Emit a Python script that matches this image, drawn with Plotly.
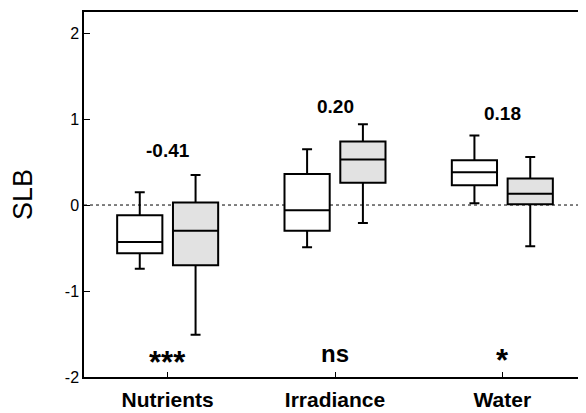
import plotly.graph_objects as go

categories = ["Nutrients", "Irradiance", "Water"]

# white boxes (first series)
w_low = [-0.74, -0.49, 0.02]
w_q1 = [-0.56, -0.30, 0.23]
w_med = [-0.43, -0.06, 0.38]
w_q3 = [-0.12, 0.36, 0.52]
w_high = [0.15, 0.65, 0.81]

# gray boxes (second series)
g_low = [-1.51, -0.21, -0.48]
g_q1 = [-0.70, 0.26, 0.01]
g_med = [-0.30, 0.53, 0.13]
g_q3 = [0.03, 0.74, 0.31]
g_high = [0.35, 0.94, 0.56]

effect_labels = ["-0.41", "0.20", "0.18"]
effect_y = [0.64, 1.15, 1.06]
signif_labels = ["***", "ns", "*"]
signif_y = [-1.83, -1.73, -1.81]
signif_size = [31, 24, 31]

y_ticks = [-2, -1, 0, 1, 2]
y_ticktext = ["-2", "-1", "0", "1", "2"]

FONT = "Liberation Sans, Arial, sans-serif"

fig = go.Figure()
fig.add_trace(go.Box(
    x=categories, q1=w_q1, median=w_med, q3=w_q3,
    lowerfence=w_low, upperfence=w_high,
    fillcolor="white", line=dict(color="black", width=2),
    whiskerwidth=0.22, boxpoints=False, showlegend=False, name="a",
))
fig.add_trace(go.Box(
    x=categories, q1=g_q1, median=g_med, q3=g_q3,
    lowerfence=g_low, upperfence=g_high,
    fillcolor="#e2e2e2", line=dict(color="black", width=2),
    whiskerwidth=0.22, boxpoints=False, showlegend=False, name="b",
))

for c, t, y in zip(categories, effect_labels, effect_y):
    fig.add_annotation(x=c, y=y, text=f"<b>{t}</b>", showarrow=False,
                       font=dict(size=19, family=FONT, color="black"),
                       yanchor="middle")
for c, t, y, s in zip(categories, signif_labels, signif_y, signif_size):
    fig.add_annotation(x=c, y=y, text=f"<b>{t}</b>", showarrow=False,
                       font=dict(size=s, family=FONT, color="black"),
                       yanchor="middle")

fig.add_shape(type="line", xref="paper", yref="y", x0=0, x1=1, y0=0, y1=0,
              line=dict(color="black", width=1, dash="dot"), layer="below")

fig.update_layout(
    width=578, height=405,
    margin=dict(l=76, r=0, t=4, b=36),
    paper_bgcolor="white", plot_bgcolor="white",
    boxmode="group", boxgap=0.333, boxgroupgap=0.19,
    font=dict(family=FONT, color="black"),
)
fig.update_xaxes(
    type="category", range=[-0.5, 2.5],
    showline=True, linecolor="black", linewidth=1.5, mirror=True,
    ticks="inside", ticklen=5, tickwidth=1, tickcolor="black",
    showgrid=False, zeroline=False,
    tickfont=dict(size=21, family=FONT, color="black"),
    ticklabelstandoff=3,
    tickvals=categories, ticktext=[f"<b>{c}</b>" for c in categories],
)
fig.update_yaxes(
    range=[-2, 2.245], tickvals=y_ticks, ticktext=y_ticktext,
    showline=True, linecolor="black", linewidth=1.5, mirror=False,
    ticks="inside", ticklen=6, tickwidth=1, tickcolor="black",
    showgrid=False, zeroline=False,
    tickfont=dict(size=16, family=FONT, color="black"),
    title=dict(text="SLB", font=dict(size=27, family=FONT, color="black"), standoff=28),
)

fig.write_html("out.html")
